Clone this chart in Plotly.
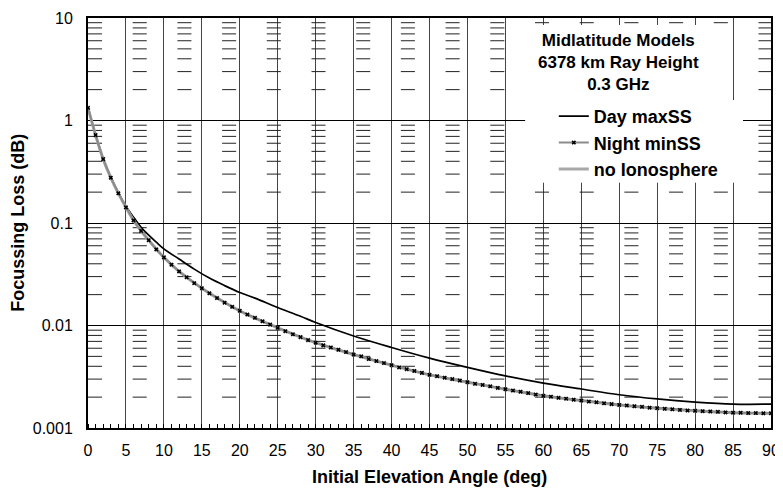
import plotly.graph_objects as go

# elevation angle (deg) for the Night minSS curve, one marker per degree
angle = list(range(0, 91))
night_minss = [1.33, 0.72, 0.42, 0.277, 0.195, 0.142, 0.106, 0.0836, 0.068, 0.0552,
               0.0462, 0.0392, 0.0337, 0.0295, 0.0259, 0.0231, 0.0206, 0.0185, 0.0167, 0.0152,
               0.0139, 0.0128, 0.0119, 0.0110, 0.0102, 0.0095, 0.0088, 0.0082, 0.0077, 0.0072,
               0.0068, 0.0064, 0.0061, 0.0058, 0.0055, 0.0052, 0.0050, 0.0047, 0.0045, 0.0043,
               0.0041, 0.0039, 0.00375, 0.0036, 0.00345, 0.0033, 0.0032, 0.0031, 0.0030, 0.0029,
               0.0028, 0.0027, 0.00263, 0.00255, 0.00246, 0.00239, 0.00232, 0.00226, 0.00219, 0.00212,
               0.00206, 0.00202, 0.00197, 0.00193, 0.00189, 0.00185, 0.00181, 0.00178, 0.00174, 0.00171,
               0.00168, 0.00166, 0.00163, 0.00161, 0.00158, 0.00156, 0.00154, 0.00152, 0.00150, 0.00148,
               0.00147, 0.00146, 0.00145, 0.00144, 0.00142, 0.00141, 0.00141, 0.00140, 0.00140, 0.00139,
               0.00139]

day_angle = [0, 1, 2, 3, 4, 5, 6, 7, 8, 9, 10, 12, 14, 16, 18, 20, 22, 25, 28, 30,
             35, 40, 45, 50, 55, 60, 65, 70, 75, 80, 85, 90]
day_maxss = [1.33, 0.72, 0.42, 0.28, 0.197, 0.146, 0.114, 0.091, 0.076, 0.065, 0.056,
             0.0445, 0.0355, 0.029, 0.0245, 0.021, 0.0185, 0.0150, 0.0123, 0.0107,
             0.0079, 0.0061, 0.0048, 0.0039, 0.00322, 0.00274, 0.00240, 0.00211, 0.00192,
             0.00179, 0.00171, 0.00171]

noiono_angle = [0, 1, 2, 3, 4, 5, 6, 7, 8, 10, 12, 15, 20, 25, 30, 35, 40, 45, 50,
                55, 60, 65, 70, 75, 80, 85, 90]
no_iono = [1.33, 0.72, 0.42, 0.277, 0.195, 0.142, 0.106, 0.0836, 0.068, 0.0462, 0.0337,
           0.0231, 0.0139, 0.0095, 0.0068, 0.0052, 0.0041, 0.0033, 0.0028, 0.00239,
           0.00206, 0.00185, 0.00168, 0.00156, 0.00147, 0.00141, 0.00139]

x_ticks = list(range(0, 91, 5))
y_ticks = [0.001, 0.01, 0.1, 1, 10]
y_tick_text = ["0.001", "0.01", "0.1", "1", "10"]

# short horizontal minor-grid dashes at 2..9 of each decade
dash_x, dash_y = [], []
for j in range(16):
    x0 = j * 5.89
    x1 = min(x0 + 1.85, 90)
    for dec in [0.001, 0.01, 0.1, 1]:
        for k in range(2, 10):
            dash_x += [x0, x1, None]
            dash_y += [k * dec, k * dec, None]

fig = go.Figure()
fig.add_trace(go.Scatter(x=dash_x, y=dash_y, mode="lines", line=dict(color="#222", width=1),
                         hoverinfo="skip", showlegend=False))
fig.add_trace(go.Scatter(x=day_angle, y=day_maxss, mode="lines", name="Day maxSS",
                         line=dict(color="black", width=1.7, shape="spline"), legendrank=1))
fig.add_trace(go.Scatter(x=noiono_angle, y=no_iono, mode="lines", name="no Ionosphere",
                         line=dict(color="#a8a8a8", width=3, shape="spline"), legendrank=3))
fig.add_trace(go.Scatter(x=angle, y=night_minss, mode="lines+markers", name="Night minSS",
                         line=dict(color="#8c8c8c", width=2),
                         marker=dict(symbol="x", size=4, color="black"), legendrank=2))

font = "Liberation Sans, Arial, sans-serif"
# page body has an 8px margin, so the figure is 8px smaller than the window
fig.update_layout(
    width=775, height=480,
    margin=dict(l=80, r=12, t=10, b=60, autoexpand=False),
    plot_bgcolor="white", paper_bgcolor="white",
    font=dict(family=font, size=16, color="black"),
    showlegend=True,
    legend=dict(
        x=0.682, xanchor="left", y=0.805, yanchor="top",
        bgcolor="rgba(0,0,0,0)", borderwidth=0,
        font=dict(size=18, weight="bold"),
        tracegroupgap=0,
    ),
    shapes=[
        # white boxes behind the title and the legend
        dict(type="rect", xref="paper", yref="paper", x0=0.640, x1=0.944, y0=0.80, y1=0.983,
             fillcolor="white", line=dict(width=0), layer="above"),
        dict(type="rect", xref="paper", yref="paper", x0=0.640, x1=0.959, y0=0.598, y1=0.80,
             fillcolor="white", line=dict(width=0), layer="above"),
    ],
    annotations=[
        dict(text="Midlatitude Models<br>6378 km Ray Height<br>0.3 GHz", xref="paper", yref="paper",
             x=0.777, y=0.972, xanchor="center", yanchor="top", showarrow=False, align="center",
             font=dict(size=17, weight="bold")),
        dict(text="Initial Elevation Angle (deg)", xref="paper", yref="paper",
             x=0.5, y=-0.119, xanchor="center", yanchor="middle", showarrow=False,
             font=dict(size=18, weight="bold")),
        dict(text="Focussing Loss (dB)", xref="paper", yref="paper", textangle=-90,
             x=-0.103, y=0.5, xanchor="center", yanchor="middle", showarrow=False,
             font=dict(size=18, weight="bold")),
    ],
)
fig.update_xaxes(
    range=[0, 90], tickvals=x_ticks, showgrid=True, gridcolor="#444", gridwidth=1,
    showline=True, linecolor="black", linewidth=2, mirror=True, automargin=False,
    ticks="", ticklabelstandoff=7,
    minor=dict(ticks="inside", dtick=1, ticklen=4, tickcolor="black", showgrid=False),
    zeroline=False,
)
fig.update_yaxes(
    type="log", range=[-3, 1], tickvals=y_ticks, ticktext=y_tick_text,
    showgrid=True, gridcolor="black", gridwidth=1, automargin=False,
    showline=True, linecolor="black", linewidth=2, mirror=True, ticks="", ticklabelstandoff=10,
    zeroline=False,
)
fig.write_html("out.html")
